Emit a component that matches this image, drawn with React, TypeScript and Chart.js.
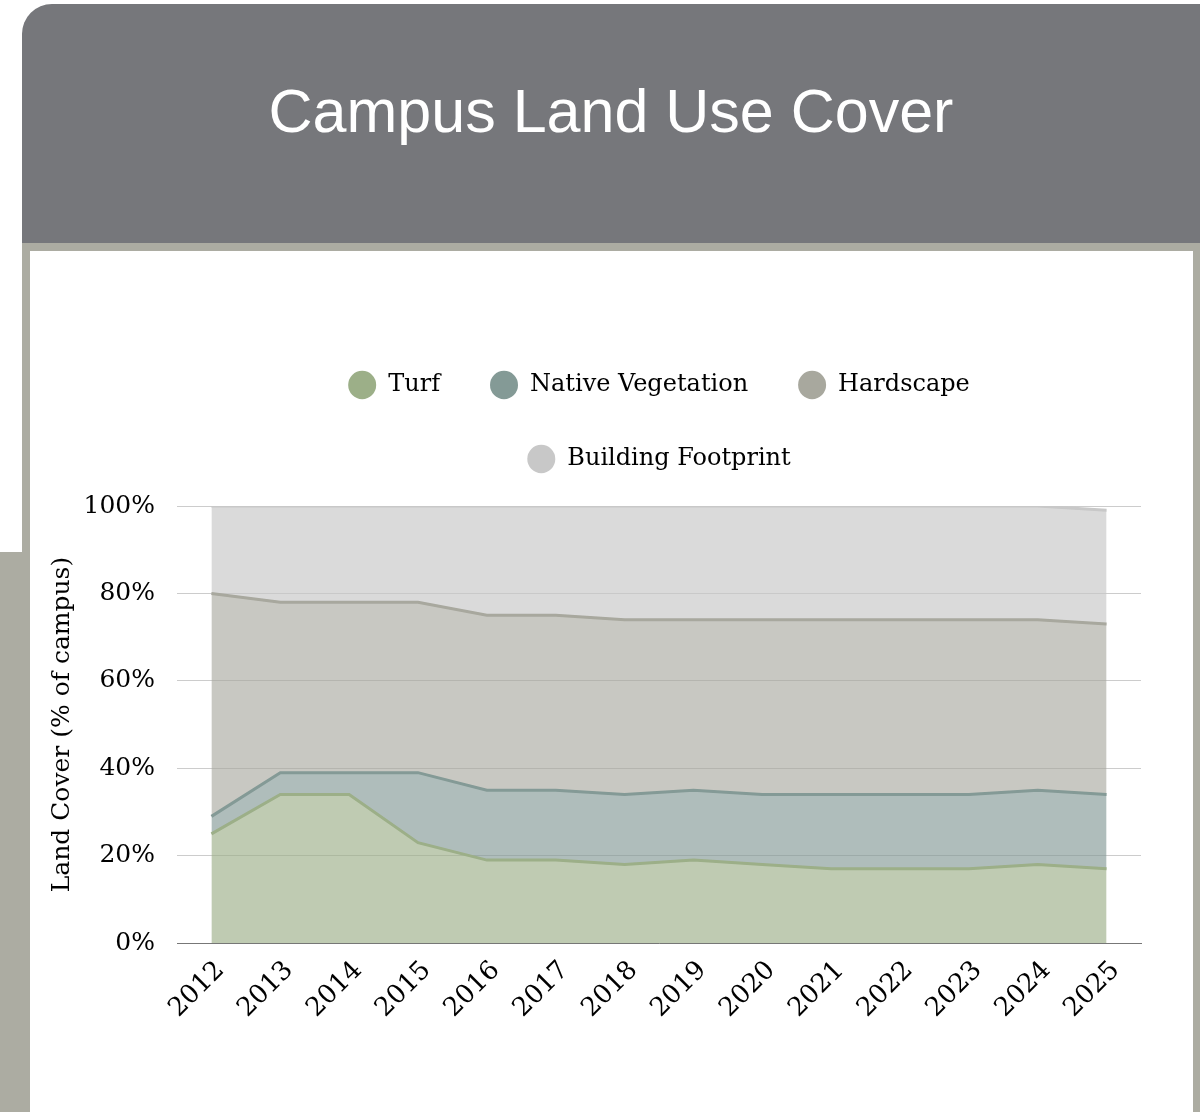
import React, { useEffect, useRef } from "react";
import { Chart, registerables } from "chart.js";

Chart.register(...registerables);

const years = ["2012","2013","2014","2015","2016","2017","2018","2019","2020","2021","2022","2023","2024","2025"];
const turf = [25, 34, 34, 23, 19, 19, 18, 19, 18, 17, 17, 17, 18, 17];
const nativeVeg = [4, 5, 5, 16, 16, 16, 16, 16, 16, 17, 17, 17, 17, 17];
const hardscape = [51, 39, 39, 39, 40, 40, 40, 39, 40, 40, 40, 40, 39, 39];
const building = [20, 22, 22, 22, 25, 25, 26, 26, 26, 26, 26, 26, 26, 26];
const seriesNames = ["Turf", "Native Vegetation", "Hardscape", "Building Footprint"];
const yTicks = [0, 20, 40, 60, 80, 100];

const lineColors = ["#9caf88", "#849a96", "#a8a89e", "#c8c8c8"];
const fillColors = [
  "rgba(156,175,136,0.65)",
  "rgba(132,154,150,0.65)",
  "rgba(168,168,158,0.63)",
  "rgba(200,200,200,0.67)",
];

const SERIF = "'DejaVu Serif', serif";

export default function App() {
  const ref = useRef<HTMLCanvasElement | null>(null);

  useEffect(() => {
    if (!ref.current) return;
    const values = [turf, nativeVeg, hardscape, building];
    const chart = new Chart(ref.current, {
      type: "line",
      data: {
        labels: years,
        datasets: values.map((v, i) => ({
          label: seriesNames[i],
          data: v,
          borderColor: lineColors[i],
          backgroundColor: fillColors[i],
          borderWidth: 3,
          pointRadius: 0,
          pointHoverRadius: 0,
          tension: 0,
          fill: i === 0 ? "origin" : "-1",
        })),
      },
      options: {
        responsive: false,
        animation: false,
        layout: { padding: { top: 72, left: 13, right: 52, bottom: 76 } },
        plugins: {
          tooltip: { enabled: false },
          subtitle: {
            display: true,
            text: "",
            position: "top",
            weight: 500,
            font: { size: 1, lineHeight: 1 },
            padding: { top: 24, bottom: 0 },
          },
          legend: {
            position: "top",
            fullSize: false,
            labels: {
              usePointStyle: true,
              pointStyle: "circle",
              pointStyleWidth: 28,
              boxWidth: 28,
              boxHeight: 20,
              padding: 50,
              color: "#000",
              font: { family: SERIF, size: 24 },
              generateLabels: (c: any) =>
                c.data.datasets.map((ds: any, i: number) => ({
                  text: ds.label,
                  fillStyle: lineColors[i],
                  strokeStyle: lineColors[i],
                  lineWidth: 0,
                  pointStyle: "circle",
                  hidden: false,
                  datasetIndex: i,
                  fontColor: "#000",
                })),
            },
          },
        },
        scales: {
          x: {
            offset: true,
            grid: { display: false, drawTicks: false },
            border: { display: true, color: "#777", width: 1 },
            ticks: {
              color: "#000",
              font: { family: SERIF, size: 26 },
              minRotation: 45,
              maxRotation: 45,
              padding: 12,
              labelOffset: 9,
              autoSkip: false,
            },
          },
          y: {
            stacked: true,
            min: 0,
            max: 100,
            afterFit: (s: any) => { s.width = 134; },
            afterBuildTicks: (s: any) => { s.ticks = yTicks.map((v) => ({ value: v })); },
            grid: { color: "#cccccc", lineWidth: 1, drawTicks: false },
            border: { display: false },
            ticks: {
              color: "#000",
              font: { family: SERIF, size: 25 },
              padding: 22,
              callback: (v: any) => v + "%",
            },
            title: {
              display: true,
              text: "Land Cover (% of campus)",
              color: "#000",
              font: { family: SERIF, size: 25 },
              padding: 4,
            },
          },
        },
      },
    });
    return () => chart.destroy();
  }, []);

  return (
    <div style={{ position: "absolute", left: 0, top: 0, width: 1200, height: 1112, overflow: "hidden", background: "#fff" }}>
      <div style={{ position: "absolute", left: 0, top: 552, width: 30, height: 600, background: "#acaca2" }} />
      <div style={{ position: "absolute", left: 22, top: 4, width: 1220, height: 245, background: "#76777b", borderTopLeftRadius: 30 }} />
      <div style={{ position: "absolute", left: 0, top: 81, width: 1222, textAlign: "center", color: "#fff", fontFamily: "'Liberation Sans', Arial, sans-serif", fontSize: 61, lineHeight: "60px" }}>
        Campus Land Use Cover
      </div>
      <div style={{ position: "absolute", left: 22, top: 243, width: 1163, height: 900, border: "8px solid #acaca2", background: "#fff" }}>
        <canvas ref={ref} width={1163} height={861} style={{ display: "block", width: 1163, height: 861 }} />
      </div>
    </div>
  );
}
